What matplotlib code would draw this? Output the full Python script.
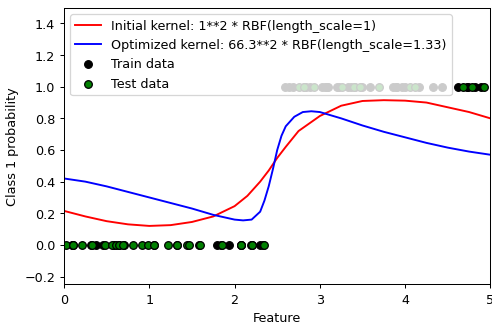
import numpy as np
import matplotlib
matplotlib.use("Agg")
import matplotlib.pyplot as plt

# Train data (black)
train_x0 = [0.09, 0.10, 0.32, 0.38, 0.46, 0.59, 0.64, 0.70, 1.05, 1.32, 1.58,
            1.79, 1.84, 1.93, 2.07, 2.08, 2.19, 2.20, 2.30, 2.33]
train_x1 = [2.59, 2.64, 2.68, 2.81, 2.84, 2.88, 3.02, 3.06, 3.08, 3.09, 3.20,
            3.23, 3.33, 3.36, 3.41, 3.49, 3.59, 3.86, 3.89, 3.90, 3.96, 4.00,
            4.16, 4.33, 4.43, 4.62, 4.72, 4.74, 4.82, 4.89]
# Test data (green)
test_x0 = [0.02, 0.10, 0.21, 0.33, 0.48, 0.56, 0.61, 0.65, 0.69, 0.81, 0.91,
           0.98, 1.06, 1.22, 1.33, 1.44, 1.47, 1.60, 1.85, 2.07, 2.20, 2.34]
test_x1 = [2.75, 2.81, 2.93, 3.26, 3.40, 3.47, 3.69, 4.06, 4.12, 4.68, 4.78,
           4.93]

# Predicted probabilities
red_x = [0.0, 0.25, 0.5, 0.75, 1.0, 1.25, 1.5, 1.75, 2.0, 2.15, 2.3, 2.4, 2.5,
         2.6, 2.75, 3.0, 3.25, 3.5, 3.75, 4.0, 4.25, 4.5, 4.75, 5.0]
red_y = [0.215, 0.18, 0.15, 0.13, 0.12, 0.125, 0.145, 0.18, 0.245, 0.31, 0.40,
         0.47, 0.55, 0.62, 0.72, 0.815, 0.88, 0.91, 0.915, 0.912, 0.90, 0.87,
         0.84, 0.80]
blue_x = [0.0, 0.25, 0.5, 0.75, 1.0, 1.25, 1.5, 1.75, 2.0, 2.1, 2.2, 2.3, 2.35,
          2.4, 2.45, 2.5, 2.55, 2.6, 2.7, 2.8, 2.9, 3.0, 3.25, 3.5, 3.75, 4.0,
          4.25, 4.5, 4.75, 5.0]
blue_y = [0.42, 0.40, 0.37, 0.335, 0.30, 0.265, 0.23, 0.19, 0.16, 0.155, 0.16,
          0.21, 0.28, 0.37, 0.48, 0.60, 0.69, 0.75, 0.81, 0.84, 0.845, 0.84,
          0.80, 0.755, 0.715, 0.68, 0.645, 0.615, 0.59, 0.57]

DPI = 91.6
fig = plt.figure(figsize=(492.4 / DPI, 322.4 / DPI), dpi=DPI)
ax = fig.add_axes([0.130, 0.1165, 0.866, 0.8585])

ax.scatter(train_x0 + train_x1, [0] * len(train_x0) + [1] * len(train_x1),
           c="k", label="Train data", edgecolors=(0, 0, 0))
ax.scatter(test_x0 + test_x1, [0] * len(test_x0) + [1] * len(test_x1),
           c="g", label="Test data", edgecolors=(0, 0, 0))
ax.plot(red_x, red_y, "r", label="Initial kernel: 1**2 * RBF(length_scale=1)")
ax.plot(blue_x, blue_y, "b",
        label="Optimized kernel: 66.3**2 * RBF(length_scale=1.33)")
ax.set_xlabel("Feature")
ax.set_ylabel("Class 1 probability")
ax.set_xlim(0, 5)
ax.set_ylim(-0.25, 1.5)
h, l = ax.get_legend_handles_labels()
ax.legend([h[2], h[3], h[0], h[1]], [l[2], l[3], l[0], l[1]], loc="upper left")
fig.savefig("out.png", dpi=DPI)
